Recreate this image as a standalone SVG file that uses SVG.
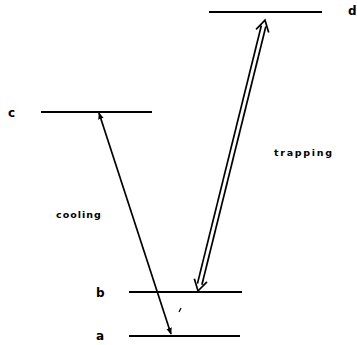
<svg xmlns="http://www.w3.org/2000/svg" width="357" height="345" viewBox="0 0 357 345">
<style>
.lvl{stroke:#000;stroke-width:2.2;fill:none}
.lbl{font-family:"DejaVu Sans","Liberation Sans",sans-serif;font-weight:bold;font-size:12px;fill:#000}
.txt{font-family:"DejaVu Sans","Liberation Sans",sans-serif;font-weight:bold;font-size:9.5px;fill:#000;letter-spacing:1px}
.ln{stroke:#000;stroke-width:1.7;fill:none}
</style>
<defs>
<marker id="ah" viewBox="0 0 10 10" refX="9" refY="5" markerWidth="7" markerHeight="7" orient="auto-start-reverse" markerUnits="userSpaceOnUse">
<path d="M0,1 L10,5 L0,9 Z" fill="#000"/>
</marker>
</defs>
<rect width="357" height="345" fill="#fff"/>
<g id="level-d"><line class="lvl" x1="209" y1="12" x2="322" y2="12"/><text class="lbl" x="348" y="15">d</text></g>
<g id="level-c"><line class="lvl" x1="41" y1="112" x2="152" y2="112"/><text class="lbl" x="8" y="117">c</text></g>
<g id="level-b"><line class="lvl" x1="129" y1="292" x2="242" y2="292"/><text class="lbl" x="96" y="297">b</text></g>
<g id="level-a"><line class="lvl" x1="129" y1="336" x2="240" y2="336"/><text class="lbl" x="96" y="340">a</text></g>
<g id="labels">
<text class="txt" x="56" y="218">cooling</text>
<text class="txt" x="274" y="156" textLength="59">trapping</text>
</g>
<g id="connectors">
<line class="ln" x1="99" y1="113" x2="171" y2="334" marker-start="url(#ah)" marker-end="url(#ah)"/>
<g transform="translate(198,291) rotate(-76.1)">
<line class="ln" x1="7" y1="-2.3" x2="273" y2="-2.3"/>
<line class="ln" x1="7" y1="2.3" x2="273" y2="2.3"/>
<polyline class="ln" points="268,-6.5 279,0 268,6.5"/>
<polyline class="ln" points="11,-6.5 0,0 11,6.5"/>
</g>
<line x1="179" y1="312" x2="181" y2="308" stroke="#000" stroke-width="1.3"/>
</g>
</svg>
